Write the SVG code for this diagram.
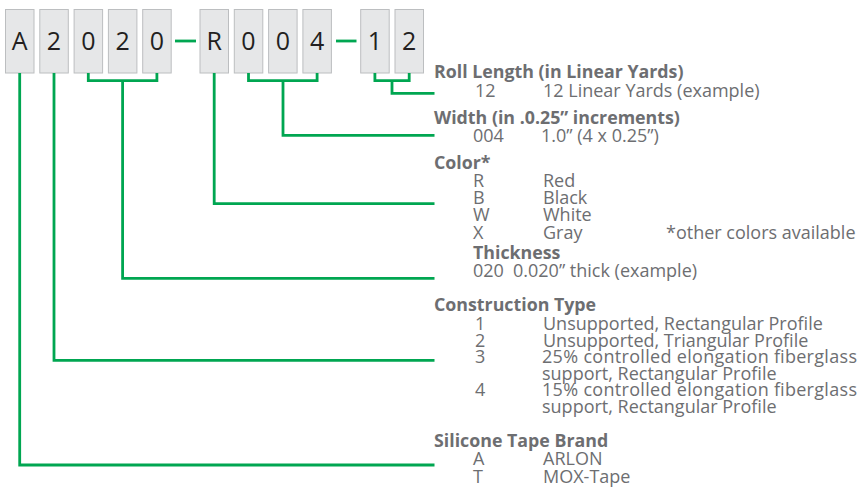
<svg xmlns="http://www.w3.org/2000/svg" width="860" height="487" viewBox="0 0 860 487">
<style>
.box{fill:#e6e7e8;stroke:#bcbec0;stroke-width:1}
.ch{font-family:"Open Sans","Liberation Sans",sans-serif;font-size:25px;fill:#231f20;text-anchor:middle}
.ln{fill:none;stroke:#00a651;stroke-width:2.8;stroke-linejoin:miter;stroke-linecap:butt}
.t{font-family:"Open Sans","Liberation Sans",sans-serif;font-size:18px;fill:#6d6e71}
.b{font-weight:bold;font-size:17.8px}
</style>
<rect width="860" height="487" fill="#fff"/>
<g id="code">
<g id="c1"><rect class="box" x="5.5" y="9.5" width="28.5" height="63.5"/><text class="ch" x="19.7" y="50">A</text></g>
<g id="c2"><rect class="box" x="39.8" y="9.5" width="28.5" height="63.5"/><text class="ch" x="54" y="50">2</text></g>
<g id="c3"><rect class="box" x="74.1" y="9.5" width="28.5" height="63.5"/><text class="ch" x="88.3" y="50">0</text></g>
<g id="c4"><rect class="box" x="108.4" y="9.5" width="28.5" height="63.5"/><text class="ch" x="122.6" y="50">2</text></g>
<g id="c5"><rect class="box" x="142.7" y="9.5" width="28.5" height="63.5"/><text class="ch" x="156.9" y="50">0</text></g>
<g id="c6"><rect class="box" x="200" y="9.5" width="28.5" height="63.5"/><text class="ch" x="214.2" y="50">R</text></g>
<g id="c7"><rect class="box" x="234.3" y="9.5" width="28.5" height="63.5"/><text class="ch" x="248.5" y="50">0</text></g>
<g id="c8"><rect class="box" x="268.6" y="9.5" width="28.5" height="63.5"/><text class="ch" x="282.8" y="50">0</text></g>
<g id="c9"><rect class="box" x="302.9" y="9.5" width="28.5" height="63.5"/><text class="ch" x="317.1" y="50">4</text></g>
<g id="c10"><rect class="box" x="360.7" y="9.5" width="28.5" height="63.5"/><text class="ch" x="374.9" y="50">1</text></g>
<g id="c11"><rect class="box" x="395" y="9.5" width="28.5" height="63.5"/><text class="ch" x="409.2" y="50">2</text></g>
</g>
<g id="connectors">
<line class="ln" x1="175" y1="41" x2="196" y2="41"/>
<line class="ln" x1="336" y1="41" x2="356.5" y2="41"/>
<polyline class="ln" points="374.9,73 374.9,80.7 409.2,80.7 409.2,73"/>
<polyline class="ln" points="392,80.7 392,93.3 434.5,93.3"/>
<polyline class="ln" points="248.5,73 248.5,80.7 317.1,80.7 317.1,73"/>
<polyline class="ln" points="283,80.7 283,135.3 434.5,135.3"/>
<polyline class="ln" points="214.2,73 214.2,203.7 434.5,203.7"/>
<polyline class="ln" points="88.3,73 88.3,80.7 156.9,80.7 156.9,73"/>
<polyline class="ln" points="122.6,80.7 122.6,278.3 434.5,278.3"/>
<polyline class="ln" points="54,73 54,360.3 434.5,360.3"/>
<polyline class="ln" points="19.7,73 19.7,465 434.5,465"/>
</g>
<g id="roll">
<text class="t b" x="434" y="78">Roll Length (in Linear Yards)</text>
<text class="t" x="475" y="96.5">12</text>
<text class="t" x="543" y="96.5">12 Linear Yards (example)</text>
</g>
<g id="width">
<text class="t b" x="434" y="123.5">Width (in .0.25” increments)</text>
<text class="t" x="473" y="142">004</text>
<text class="t" x="541" y="142">1.0” (4 x 0.25”)</text>
</g>
<g id="color">
<text class="t b" x="434" y="168.5">Color*</text>
<text class="t" x="473" y="187">R</text><text class="t" x="543" y="187">Red</text>
<text class="t" x="473" y="204">B</text><text class="t" x="543" y="204">Black</text>
<text class="t" x="473" y="221">W</text><text class="t" x="543" y="221">White</text>
<text class="t" x="473" y="238.5">X</text><text class="t" x="543" y="238.5">Gray</text>
<text class="t" x="666" y="238.5">*other colors available</text>
</g>
<g id="thickness">
<text class="t b" x="473" y="259">Thickness</text>
<text class="t" x="473" y="277">020</text>
<text class="t" x="513" y="277">0.020” thick (example)</text>
</g>
<g id="construction">
<text class="t b" x="434" y="311">Construction Type</text>
<text class="t" x="475" y="329.5">1</text><text class="t" x="543" y="329.5">Unsupported, Rectangular Profile</text>
<text class="t" x="475" y="346.5">2</text><text class="t" x="543" y="346.5">Unsupported, Triangular Profile</text>
<text class="t" x="475" y="363">3</text><text class="t" x="542" y="363" textLength="315" lengthAdjust="spacing">25% controlled elongation fiberglass</text>
<text class="t" x="542" y="379.5">support, Rectangular Profile</text>
<text class="t" x="475" y="396">4</text><text class="t" x="542" y="396" textLength="315" lengthAdjust="spacing">15% controlled elongation fiberglass</text>
<text class="t" x="542" y="413">support, Rectangular Profile</text>
</g>
<g id="brand">
<text class="t b" x="434" y="447">Silicone Tape Brand</text>
<text class="t" x="473" y="465">A</text><text class="t" x="543" y="465">ARLON</text>
<text class="t" x="473" y="483">T</text><text class="t" x="543" y="483">MOX-Tape</text>
</g>
</svg>
